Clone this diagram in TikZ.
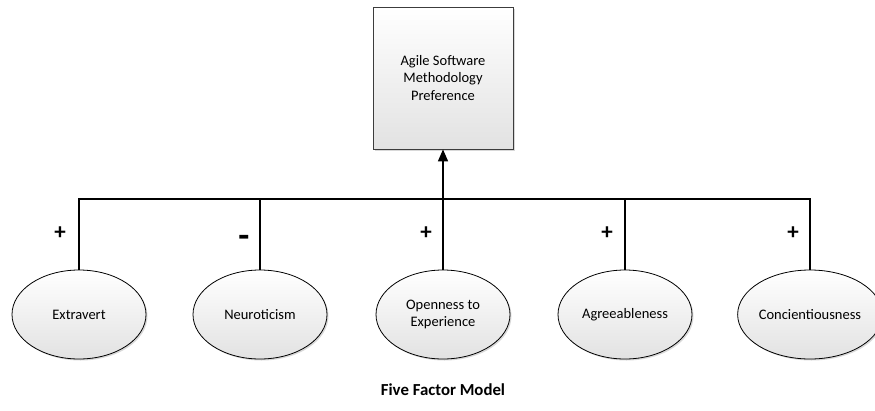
\documentclass[tikz,border=0pt]{standalone}
\usepackage{fontspec}
\setmainfont{Carlito}
\usetikzlibrary{shapes.geometric,shadows,arrows.meta}

\definecolor{shade-grey}{RGB}{226, 226, 226}
\definecolor{edge-grey}{RGB}{60, 60, 60}

\begin{document}
\begin{tikzpicture}[
        x=1pt, y=-1pt,
        every node/.style={align=center, font=\fontsize{14.5}{17.5}\selectfont},
        factor/.style={ellipse, draw=black, line width=0.8pt, top color=white, bottom color=shade-grey,
            minimum width=134pt, minimum height=89pt, inner sep=0pt,
            drop shadow={shadow xshift=1.5pt, shadow yshift=-1.5pt, fill=gray!60}},
        outcome/.style={rectangle, draw=edge-grey, line width=0.8pt, top color=white, bottom color=shade-grey,
            minimum width=140pt, minimum height=142pt, inner sep=0pt,
            drop shadow={shadow xshift=2pt, shadow yshift=-2pt, fill=gray!60}},
        link/.style={line width=1.6pt},
        sign/.style={font=\bfseries\fontsize{23}{23}\selectfont},
    ]
        \useasboundingbox (0,0) rectangle (875,410);

        \node[outcome] (pref) at (443,78) {Agile Software\\Methodology\\Preference};

        \node[factor] (ext) at (79,314.5) {Extravert};
        \node[factor] (neu) at (260,314.5) {Neuroticism};
        \node[factor] (opn) at (443,314.5) {Openness to\\Experience};
        \node[factor] (agr) at (625,314.5) {Agreeableness};
        \node[factor] (con) at (810,314.5) {Concientiousness};

        \coordinate (bus) at (443,199);

        \draw[link] (ext.north) |- (bus);
        \draw[link] (neu.north) |- (bus);
        \draw[link] (opn.north) -- (bus);
        \draw[link] (agr.north) |- (bus);
        \draw[link] (con.north) |- (bus);
        \draw[link, -{Triangle[length=12pt, width=10pt]}] (bus) -- (pref.south);

        \node[sign] (s1) at (60,233) {+};
        \node[sign, font=\bfseries\fontsize{36}{36}\selectfont] (s2) at (244,241) {-};
        \node[sign] (s3) at (426,233) {+};
        \node[sign] (s4) at (607,233) {+};
        \node[sign] (s5) at (793,233) {+};

        \node[font=\bfseries\fontsize{16.8}{20}\selectfont] (title) at (443,390) {Five Factor Model};
\end{tikzpicture}
\end{document}
